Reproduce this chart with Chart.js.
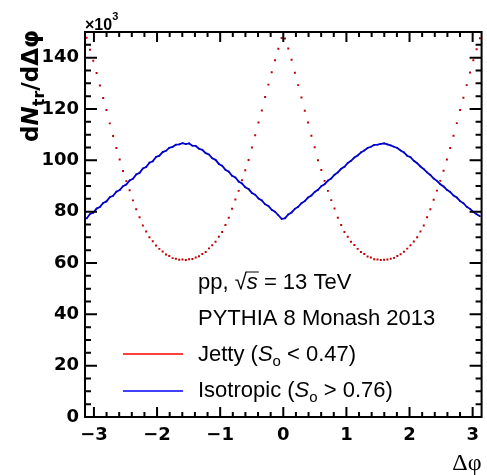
<!DOCTYPE html>
<html>
<head>
<meta charset="utf-8">
<script src="https://cdn.jsdelivr.net/npm/chart.js@4.4.1/dist/chart.umd.min.js"></script>
<style>
html,body{margin:0;padding:0;background:#fff;}
canvas{display:block;}
</style>
</head>
<body>
<canvas id="c" width="487" height="475"></canvas>
<script>
// ---- data ----
const nBins = 120;
const phiMin = -Math.PI, phiMax = Math.PI;
const phiCenters = Array.from({length: nBins}, (_, i) => phiMin + (i + 0.5) * (phiMax - phiMin) / nBins);

const xTicks = [-3, -2, -1, 0, 1, 2, 3];
const yTicks = [0, 20, 40, 60, 80, 100, 120, 140];

// Jetty (S_o < 0.47), values in units of 10^3
const jettyValues = [
  147.8,143.1,138.8,134.0,129.2,124.3,119.6,114.4,109.5,104.8,100.3,95.8,91.9,88.3,84.4,80.9,77.8,74.6,72.3,70.0,68.5,66.8,65.5,64.5,63.3,62.7,61.9,61.7,61.3,61.4,
  61.2,61.5,61.6,62.1,62.6,63.5,64.3,65.7,66.9,68.3,70.2,72.1,74.8,77.6,81.1,84.7,88.1,92.2,96.1,100.1,105.0,109.8,114.7,119.4,124.7,129.5,134.3,139.0,143.5,147.7,
  147.5,143.6,139.2,134.1,129.3,124.5,119.3,114.7,109.6,105.1,100.0,96.2,92.0,88.1,84.5,81.2,77.6,74.8,72.1,70.2,68.3,67.0,65.5,64.3,63.5,62.5,62.1,61.5,61.4,61.2,
  61.3,61.4,61.7,62.0,62.7,63.4,64.4,65.6,66.9,68.4,70.0,72.3,74.6,77.8,80.9,84.6,88.2,92.0,95.9,100.3,104.8,109.6,114.5,119.6,124.4,129.3,134.2,139.0,143.3,147.6
];
// Isotropic (S_o > 0.76), values in units of 10^3
const isoValues = [
  77.3,79.1,79.6,81.2,81.8,83.4,84.0,85.6,86.2,87.8,88.4,89.9,90.6,92.2,92.8,94.5,95.1,96.8,97.4,99.1,99.6,101.3,101.8,103.2,103.7,104.9,105.2,106.1,106.2,106.7,
  106.3,106.6,105.7,105.6,104.5,104.1,102.8,102.3,100.8,100.2,98.6,97.9,96.3,95.6,94.0,93.3,91.7,91.0,89.5,88.8,87.3,86.6,85.1,84.4,82.9,82.2,80.7,80.0,78.6,77.2,
  77.4,78.9,79.7,81.1,81.9,83.3,84.1,85.5,86.3,87.7,88.5,89.9,90.7,92.1,92.9,94.4,95.3,96.7,97.5,99.0,99.8,101.1,101.9,103.1,103.8,104.8,105.3,106.0,106.1,106.4,
  106.6,106.2,105.8,105.3,104.8,103.8,103.1,101.8,101.2,99.8,98.9,97.6,96.6,95.3,94.3,92.9,92.0,90.7,89.8,88.5,87.7,86.3,85.5,84.1,83.3,81.9,81.1,79.9,79.0,78.2
];

const SANS = '"Liberation Sans", Arial, Helvetica, sans-serif';
const BOLD = '"DejaVu Sans", "Liberation Sans", sans-serif';
const SERIF = '"Liberation Serif", "Times New Roman", serif';
const fmtTick = v => (v < 0 ? '\u2212' + Math.abs(v) : String(v));

function richText(ctx, x, y, parts) {
  let cx = x;
  for (const p of parts) {
    ctx.font = p.font;
    ctx.fillText(p.t, cx, y + (p.dy || 0));
    const w = ctx.measureText(p.t).width;
    if (p.over) {
      ctx.save();
      ctx.lineWidth = 1;
      ctx.beginPath();
      ctx.moveTo(cx - 1, y + p.over);
      ctx.lineTo(cx + w + 1, y + p.over);
      ctx.stroke();
      ctx.restore();
    }
    cx += w + (p.gap || 0);
  }
  return cx;
}

const framePlugin = {
  id: 'frame',
  afterDatasetsDraw(chart) {
    const ctx = chart.ctx;
    const xs = chart.scales.x, ys = chart.scales.y;
    const L = chart.chartArea.left, R = chart.chartArea.right, T = chart.chartArea.top, B = chart.chartArea.bottom;
    ctx.save();
    ctx.strokeStyle = '#000';
    ctx.fillStyle = '#000';
    ctx.lineWidth = 2;
    ctx.strokeRect(L, T, R - L, B - T);
    ctx.beginPath();
    for (let v = -3.0; v <= 3.0001; v += 0.2) {
      const r = Math.round(v * 10) / 10;
      const major = Math.abs(r - Math.round(r)) < 1e-6;
      const len = major ? 10 : 5;
      const px = xs.getPixelForValue(r);
      ctx.moveTo(px, B); ctx.lineTo(px, B - len);
      ctx.moveTo(px, T); ctx.lineTo(px, T + len);
    }
    for (let v = 0; v <= 150; v += 5) {
      const major = v % 20 === 0;
      const len = major ? 12 : 6;
      const py = ys.getPixelForValue(v);
      ctx.moveTo(L, py); ctx.lineTo(L + len, py);
      ctx.moveTo(R, py); ctx.lineTo(R - len, py);
    }
    ctx.stroke();

    ctx.textBaseline = 'alphabetic';
    ctx.textAlign = 'left';
    richText(ctx, L, 30, [
      {t: '\u00d710', font: 'bold 16px ' + SANS},
      {t: '3', font: 'bold 11px ' + SANS, dy: -10}
    ]);

    ctx.textAlign = 'right';
    ctx.font = '24px ' + SERIF;
    ctx.fillText('\u0394\u03c6', R, 470);
    ctx.textAlign = 'left';

    ctx.save();
    ctx.translate(38, 86);
    ctx.rotate(-Math.PI / 2);
    const yParts = [
      {t: 'd', font: 'bold 23px ' + BOLD},
      {t: 'N', font: 'italic bold 23px ' + BOLD},
      {t: 'tr', font: 'bold 16px ' + BOLD, dy: 6},
      {t: '/d\u0394\u03c6', font: 'bold 23px ' + BOLD}
    ];
    let tw = 0;
    for (const p of yParts) { ctx.font = p.font; tw += ctx.measureText(p.t).width; }
    richText(ctx, -tw / 2, 0, yParts);
    ctx.restore();

    const f = '22px ' + SANS;
    const fi = 'italic 22px ' + SANS;
    const fs = '15px ' + SANS;
    richText(ctx, 198, 289, [
      {t: 'pp, ', font: f},
      {t: '\u221a', font: f},
      {t: 's', font: fi, over: -17},
      {t: ' = 13 TeV', font: f}
    ]);
    ctx.font = f;
    ctx.fillText('PYTHIA 8 Monash 2013', 198, 325);
    richText(ctx, 198, 361, [
      {t: 'Jetty (', font: f},
      {t: 'S', font: fi},
      {t: 'o', font: fs, dy: 5},
      {t: ' < 0.47)', font: f}
    ]);
    richText(ctx, 198, 397, [
      {t: 'Isotropic (', font: f},
      {t: 'S', font: fi},
      {t: 'o', font: fs, dy: 5},
      {t: ' > 0.76)', font: f}
    ]);
    ctx.lineWidth = 1.5;
    ctx.strokeStyle = '#ff0000';
    ctx.beginPath(); ctx.moveTo(123, 354); ctx.lineTo(183, 354); ctx.stroke();
    ctx.strokeStyle = '#0000ff';
    ctx.beginPath(); ctx.moveTo(123, 391); ctx.lineTo(183, 391); ctx.stroke();
    ctx.restore();
  }
};

new Chart(document.getElementById('c'), {
  type: 'scatter',
  data: {
    datasets: [
      {
        label: 'Isotropic',
        data: phiCenters.map((x, i) => ({x, y: isoValues[i]})),
        showLine: true,
        borderColor: '#0000cc',
        borderWidth: 1.8,
        pointRadius: 1.1,
        pointStyle: 'rect',
        pointBackgroundColor: '#0000cc',
        pointBorderWidth: 0,
        tension: 0
      },
      {
        label: 'Jetty',
        data: phiCenters.map((x, i) => ({x, y: jettyValues[i]})),
        showLine: false,
        pointRadius: 1.4,
        pointStyle: 'rect',
        pointBackgroundColor: '#c00000',
        pointBorderWidth: 0
      }
    ]
  },
  options: {
    responsive: false,
    devicePixelRatio: 1,
    animation: false,
    layout: {padding: {top: 32, right: 2, left: 0, bottom: 0}},
    plugins: {legend: {display: false}, tooltip: {enabled: false}},
    scales: {
      x: {
        type: 'linear',
        min: phiMin, max: phiMax,
        afterBuildTicks: s => { s.ticks = xTicks.map(v => ({value: v})); },
        afterFit: s => { s.height = 58; },
        grid: {display: false, drawTicks: false},
        border: {display: false},
        ticks: {
          font: {family: BOLD, size: 18, weight: 'bold'},
          color: '#000', padding: 8, maxRotation: 0, autoSkip: false,
          callback: v => fmtTick(v)
        }
      },
      y: {
        min: 0, max: 150,
        afterBuildTicks: s => { s.ticks = yTicks.map(v => ({value: v})); },
        afterFit: s => { s.width = 85; },
        grid: {display: false, drawTicks: false},
        border: {display: false},
        ticks: {
          font: {family: BOLD, size: 18, weight: 'bold'},
          color: '#000', padding: 6, autoSkip: false,
          callback: v => fmtTick(v)
        }
      }
    }
  },
  plugins: [framePlugin]
});
</script>
</body>
</html>
